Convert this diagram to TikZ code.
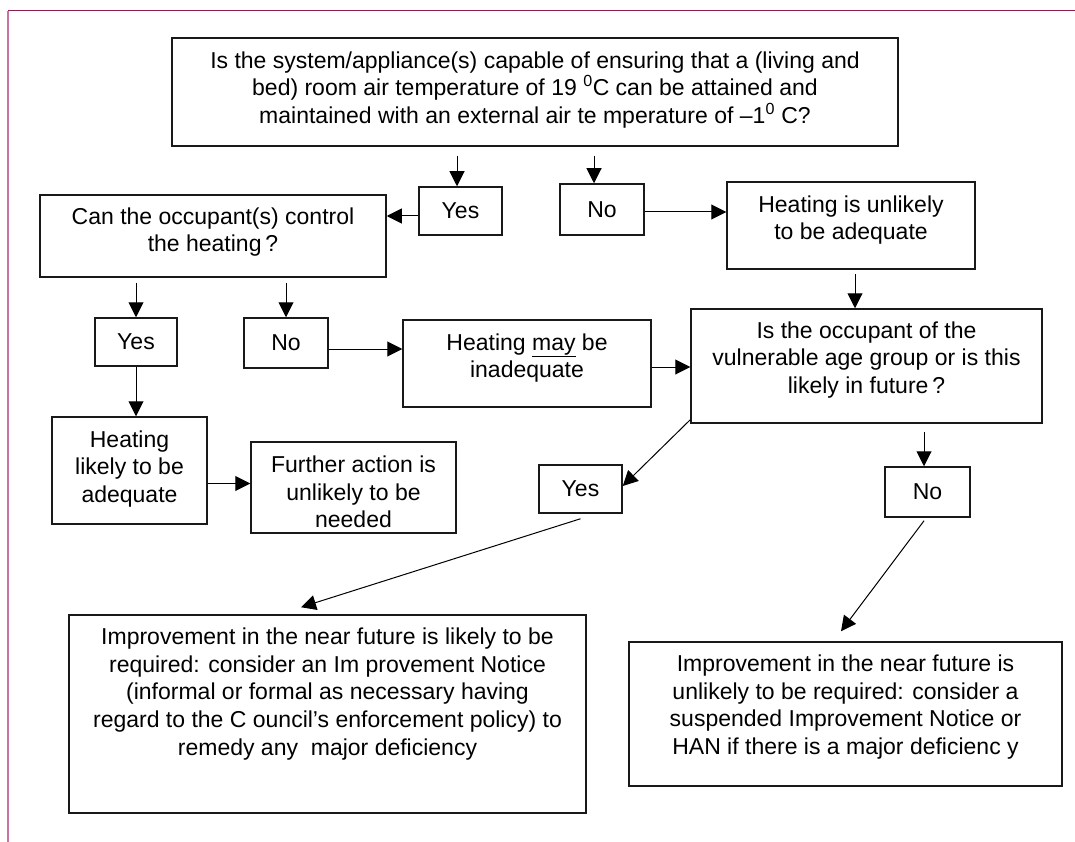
\documentclass[tikz,border=0pt]{standalone}
\usepackage{fontspec}
\setmainfont{Liberation Sans}
\usetikzlibrary{arrows.meta}

\definecolor{pageline}{RGB}{140,30,80}
\definecolor{pagemargin}{RGB}{200,115,160}

\begin{document}
\begin{tikzpicture}[x=1pt,y=-1pt,>={Triangle[length=15pt,width=15pt]},
    box/.style={draw=black!90,line width=1.5pt,inner sep=0pt},
    txt/.style={align=center,inner sep=0pt,font=\fontsize{23}{27.6}\selectfont},
    answer/.style={box,txt},
    every path/.style={line width=1pt}]
    \useasboundingbox (0,0) rectangle (1075,842);

    % page border
    \draw[pageline] (8,11) -- (1075,11);
    \draw[pagemargin, line width=2pt] (8,11) -- (8,842);

    % boxes
    \node[box, minimum width=726, minimum height=108] (quest) at (535,92) {};
    \node[box, minimum width=346, minimum height=82] (can) at (213,236) {};
    \node[answer, minimum width=83, minimum height=48] (yesA) at (460.5,211) {Yes};
    \node[answer, minimum width=84, minimum height=51] (noA) at (602,209.5) {No};
    \node[box, minimum width=248, minimum height=87] (unlikely) at (851,225.5) {};
    \node[answer, minimum width=82, minimum height=48] (yesB) at (136,342) {Yes};
    \node[answer, minimum width=84, minimum height=50] (noB) at (286,343) {No};
    \node[box, minimum width=248, minimum height=87] (may) at (527,363.5) {};
    \node[box, minimum width=351, minimum height=114] (vuln) at (866.5,366) {};
    \node[box, minimum width=155, minimum height=107] (likely) at (129.5,470.5) {};
    \node[box, minimum width=205, minimum height=91] (further) at (353.5,487.5) {};
    \node[answer, minimum width=83, minimum height=48] (yesC) at (580.5,489) {Yes};
    \node[answer, minimum width=85, minimum height=50] (noC) at (927.5,492) {No};
    \node[box, minimum width=517, minimum height=198] (needed) at (327.5,714) {};
    \node[box, minimum width=433, minimum height=144] (notneeded) at (845.5,714) {};

    % texts
    \node[txt] (questtext) at (535,90) {Is the system/appliance(s) capable of ensuring that a (living and\\bed) room air temperature of 19 \textsuperscript{0}C can be attained and\\maintained with an external air te mperature of –1\textsuperscript{0} C?};
    \node[txt] (cantext) at (213,232) {Can the occupant(s) control\\the heating\,?};
    \node[txt] (unlikelytext) at (851,220) {Heating is unlikely\\to be adequate};
    \node[txt] (maytext) at (527,358) {Heating \underline{may} be\\inadequate};
    \node[txt] (vulntext) at (866.5,360) {Is the occupant of the\\vulnerable age group or is this\\likely in future\,?};
    \node[txt] (likelytext) at (129.5,469) {Heating\\likely to be\\adequate};
    \node[txt] (furthertext) at (353.5,492) {Further action is\\unlikely to be\\needed};
    \node[txt] (neededtext) at (327.5,694) {Improvement in the near future is likely to be\\required: consider an Im provement Notice\\(informal or formal as necessary having\\regard to the C ouncil’s enforcement policy) to\\remedy any \ major deficiency};
    \node[txt] (notneededtext) at (845.5,707) {Improvement in the near future is\\unlikely to be required: consider a\\suspended Improvement Notice or\\HAN if there is a major deficienc y};

    % connectors
    \draw[->, shorten <=9pt] ([xshift=-3.5pt]yesA.north |- quest.south) -- ([xshift=-3.5pt]yesA.north);
    \draw[->, shorten <=9pt] ([xshift=-8pt]noA.north |- quest.south) -- ([xshift=-8pt]noA.north);
    \draw[->] ([yshift=-5pt]yesA.west) -- ([yshift=-5pt]yesA.west -| can.east);
    \draw[->] ([yshift=-2.5pt]noA.east) -- ([yshift=-2.5pt]noA.east -| unlikely.west);
    \draw[->, shorten <=5pt] (yesB.north |- can.south) -- (yesB.north);
    \draw[->, shorten <=5pt] (noB.north |- can.south) -- (noB.north);
    \draw[->] ([yshift=-6pt]noB.east) -- ([yshift=-6pt]noB.east -| may.west);
    \draw[->] (yesB.south) -- (yesB.south |- likely.north);
    \draw[->] ([yshift=4pt]further.west -| likely.east) -- ([yshift=4pt]further.west);
    \draw[->, shorten <=4pt] ([xshift=4pt]unlikely.south) -- ([xshift=4pt]unlikely.south |- vuln.north);
    \draw[->] ([yshift=-3.5pt]may.east) -- ([yshift=-3.5pt]may.east -| vuln.west);
    \draw[->] ([yshift=4pt]vuln.south west) -- ([yshift=3pt]yesC.east);
    \draw[->, shorten <=8pt] ([xshift=-3.5pt]noC.north |- vuln.south) -- ([xshift=-3.5pt]noC.north);
    \draw[->] ([yshift=-5pt]yesC.south) -- ([xshift=-26.5pt,yshift=7pt]needed.north);
    \draw[->] ([xshift=-3.5pt,yshift=-3pt]noC.south) -- ([xshift=-4.5pt,yshift=10pt]notneeded.north);
\end{tikzpicture}
\end{document}
